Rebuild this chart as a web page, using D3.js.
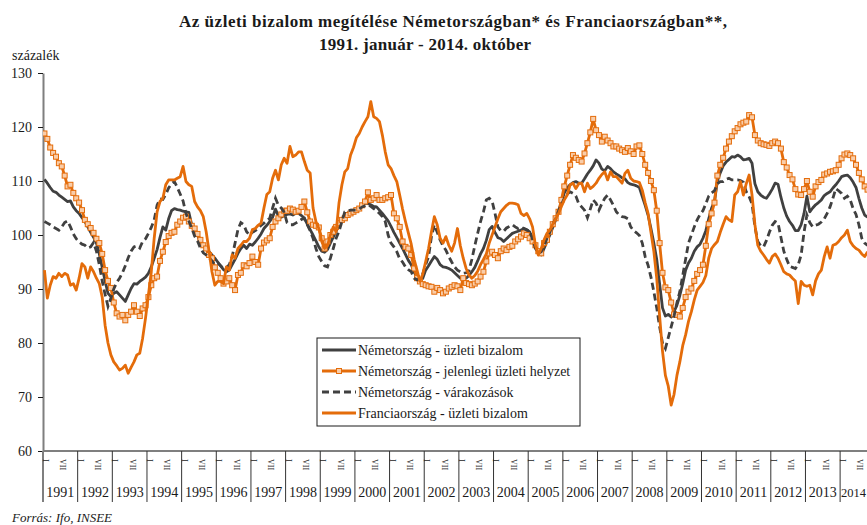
<!DOCTYPE html>
<html>
<head>
<meta charset="utf-8">
<script src="https://d3js.org/d3.v7.min.js"></script>
<style>
  body { margin: 0; background: #fff; }
  svg { display: block; }
  text { font-family: "Liberation Serif", "DejaVu Serif", serif; fill: #1a1a1a; }
</style>
</head>
<body>
<div class="canvas"></div>

<script>
// ---- data (monthly, 1991 Jan - 2014 Oct) ----
const years = ["1991","1992","1993","1994","1995","1996","1997","1998","1999","2000","2001","2002",
               "2003","2004","2005","2006","2007","2008","2009","2010","2011","2012","2013","2014"];
const monthMarks = [{ m: 0, label: "I" }, { m: 6, label: "VII" }];
const yTicks = [60, 70, 80, 90, 100, 110, 120, 130];
const seriesNames = [
  "Németország - üzleti bizalom",
  "Németország - jelenlegi üzleti helyzet",
  "Németország - várakozások",
  "Franciaország - üzleti bizalom"
];

const deBizalom = [
  110.3,109.6,108.8,108.1,107.9,107.4,107.0,106.6,106.2,106.3,105.2,104.5,
  104.0,103.2,102.5,101.5,100.5,99.6,98.5,96.5,94.0,91.5,89.2,88.6,
  89.2,89.5,88.9,88.3,87.7,88.9,90.1,91.0,90.9,91.4,91.8,92.2,
  92.9,94.1,95.7,97.3,99.5,101.5,100.9,103.0,104.5,104.9,104.7,104.6,
  104.4,104.3,104.2,101.9,100.5,100.0,98.5,98.2,97.5,96.9,96.3,95.7,
  95.0,94.3,93.6,93.2,93.5,94.5,95.5,96.6,97.5,98.1,97.5,98.3,
  98.1,98.7,99.4,100.2,101.2,101.8,102.5,103.3,104.8,103.5,103.3,103.6,
  103.8,103.9,103.7,104.0,104.0,103.6,103.1,102.0,101.0,100.0,98.9,97.8,
  97.0,96.8,97.3,98.5,99.6,100.7,101.9,102.9,103.8,104.1,104.3,104.6,
  104.7,105.0,105.4,105.9,105.8,105.6,105.3,105.2,104.6,104.0,103.3,102.6,
  101.6,100.5,99.5,98.5,97.5,96.4,95.3,94.5,93.2,92.0,91.4,92.0,
  93.5,94.3,95.2,96.0,95.5,94.5,94.1,94.0,93.8,93.5,93.0,92.5,
  92.0,91.9,92.0,92.5,93.2,94.0,95.2,96.5,97.5,99.0,101.0,101.6,
  100.5,99.5,99.3,98.8,99.3,99.8,100.3,100.5,100.7,100.9,101.2,101.0,
  100.6,99.3,98.1,96.7,96.3,97.5,98.8,100.0,101.4,102.8,104.5,106.0,
  107.8,108.7,109.3,109.7,109.9,109.6,109.6,110.4,111.3,112.0,112.8,113.9,
  113.3,112.2,111.9,112.7,112.3,111.7,111.3,111.0,110.6,110.4,109.7,109.4,
  109.3,109.1,108.8,107.1,105.5,103.7,101.2,98.5,95.5,91.0,86.5,85.0,
  85.3,84.8,85.8,87.0,88.8,91.0,93.5,94.8,95.7,97.0,97.8,98.3,
  99.4,100.8,103.0,105.0,106.2,110.0,111.5,112.8,113.5,114.0,114.5,114.4,
  114.8,114.5,113.9,114.0,114.2,113.3,109.5,108.0,107.4,107.0,106.8,107.6,
  108.5,109.6,109.4,107.0,105.0,103.5,102.5,101.8,100.8,100.8,101.9,104.0,
  107.2,104.3,105.0,105.6,106.0,106.5,107.3,107.7,108.0,108.7,109.3,110.0,
  110.8,111.0,111.1,110.6,109.8,108.8,106.8,105.0,103.7,103.3
];

const deHelyzet = [
  118.8,117.8,116.2,115.2,114.5,113.3,112.7,111.0,109.0,109.3,107.8,106.8,
  106.0,104.6,102.8,102.0,101.3,100.4,99.3,98.5,96.5,93.5,91.5,90.2,
  87.5,85.5,84.9,85.2,84.2,85.2,85.8,87.0,85.8,85.0,86.4,87.0,
  88.5,90.7,92.0,92.3,95.2,96.9,98.7,99.8,100.4,100.6,101.9,102.5,
  103.2,103.4,102.5,101.7,101.2,100.2,99.1,98.1,97.5,96.3,95.7,94.0,
  93.0,92.0,91.0,91.4,92.0,90.7,89.8,92.6,93.0,94.4,94.2,94.8,
  96.0,95.0,94.5,97.5,98.6,99.0,99.4,101.5,102.5,103.1,103.8,104.5,
  104.5,104.9,104.7,104.3,104.5,105.2,106.2,104.2,102.5,101.9,101.7,101.4,
  99.4,97.5,98.8,100.0,100.6,101.5,102.2,102.8,103.1,103.7,104.0,104.3,
  104.6,104.9,105.5,106.2,107.9,106.5,106.8,107.4,106.5,106.5,106.8,107.0,
  107.4,104.0,103.1,101.5,98.8,97.8,97.5,96.3,93.8,92.0,91.4,90.9,
  90.7,90.5,90.4,89.5,90.2,89.8,89.2,89.5,90.1,90.4,90.7,90.5,
  89.8,92.0,91.1,90.9,90.7,91.0,91.4,92.3,93.2,95.1,96.6,96.9,
  96.3,95.7,97.0,97.5,97.2,97.8,98.0,98.8,99.2,99.7,100.3,100.0,
  99.4,98.8,98.1,97.0,96.6,98.5,99.1,100.6,102.0,103.1,104.3,106.5,
  109.0,111.0,113.0,114.8,114.3,113.9,113.6,115.1,117.0,119.0,121.5,119.4,
  118.5,117.3,118.2,117.5,117.0,116.4,116.4,116.0,115.7,115.4,116.1,115.5,
  115.0,116.4,116.6,115.0,113.0,111.5,110.0,108.3,104.5,98.5,93.0,90.3,
  89.8,87.5,85.3,85.2,84.9,86.5,88.5,89.5,90.1,91.5,92.8,93.5,
  94.5,98.0,102.0,104.0,106.0,111.0,113.0,114.3,116.0,117.3,118.3,119.2,
  119.8,120.5,120.8,121.0,122.2,121.8,118.5,117.5,117.0,116.8,116.7,116.5,
  117.0,117.3,117.0,116.0,113.5,112.5,111.1,110.3,108.5,107.5,107.4,108.5,
  110.0,108.0,107.1,109.0,109.8,110.2,111.2,111.4,111.7,111.8,112.0,113.0,
  114.2,114.9,115.1,114.8,114.2,113.0,111.5,110.3,109.0,108.4
];

const deVarakozas = [
  102.5,102.2,101.9,101.5,101.2,100.9,101.5,102.3,102.6,101.5,100.2,99.3,
  98.7,98.3,98.1,97.6,97.8,98.6,97.0,94.5,91.5,89.0,86.8,88.3,
  90.0,91.2,92.0,93.0,94.3,95.8,97.0,97.8,98.0,97.6,98.8,99.3,
  100.3,101.4,102.8,105.5,106.7,106.6,107.5,108.7,109.5,109.9,108.8,107.6,
  106.3,104.0,102.6,101.3,99.8,98.9,97.6,96.7,96.3,95.8,95.2,94.5,
  94.8,94.3,93.8,94.0,94.5,96.0,98.5,101.0,102.3,101.9,100.6,100.0,
  100.5,100.8,101.2,101.8,102.2,102.7,103.1,105.0,106.8,105.5,105.0,104.2,
  102.3,101.9,101.9,102.2,102.5,102.9,103.1,101.9,100.8,99.4,97.5,96.0,
  95.1,94.3,94.1,95.7,97.5,99.4,100.7,102.5,104.3,104.5,104.6,104.6,
  104.6,104.8,105.2,105.4,105.6,105.3,104.9,104.5,104.0,103.4,102.5,100.0,
  98.5,97.8,96.9,95.6,95.0,94.1,93.6,93.2,92.0,91.7,92.0,92.8,
  94.5,96.0,99.7,101.9,100.5,99.1,98.0,97.2,96.0,95.0,94.1,93.5,
  93.2,92.9,93.0,93.4,95.5,98.0,100.3,102.5,104.3,106.5,106.8,106.3,
  104.0,101.5,100.8,100.7,101.3,101.6,101.9,101.5,101.2,101.5,101.2,100.9,
  100.8,99.2,97.5,96.6,96.9,98.0,99.4,100.5,102.0,103.0,104.5,105.6,
  106.8,107.6,108.0,107.7,107.2,105.8,105.2,104.6,103.2,104.8,106.5,105.9,
  104.6,105.8,106.8,107.4,106.5,105.5,104.3,103.7,103.4,103.3,103.0,101.5,
  100.8,100.4,99.9,98.5,96.0,94.4,92.2,89.5,86.5,83.0,80.0,79.0,
  81.0,83.0,85.0,87.5,89.5,92.5,95.5,98.5,100.0,101.5,102.8,103.8,
  104.5,105.8,107.2,107.8,108.2,109.5,109.9,109.9,110.3,110.5,110.2,110.2,
  110.2,110.1,109.8,108.0,107.1,105.8,101.5,98.8,98.0,97.8,99.0,100.5,
  101.8,102.5,102.2,99.6,97.0,95.5,94.2,94.0,93.8,94.5,96.3,100.5,
  103.7,102.3,101.5,101.8,102.0,102.4,103.0,104.0,105.2,106.8,108.6,108.2,
  107.7,106.8,107.2,106.5,104.9,103.8,101.9,99.4,98.5,98.1
];

const frBizalom = [
  93.5,88.3,90.7,92.3,92.0,92.9,92.3,92.9,92.6,90.7,91.0,89.8,
  92.0,94.7,94.1,92.0,94.1,93.2,92.0,91.0,88.5,83.3,80.0,77.8,
  76.5,75.8,75.0,75.3,75.9,74.4,75.5,76.5,77.8,78.1,80.9,84.6,
  88.9,93.2,99.4,104.3,106.2,106.8,109.3,110.2,110.2,110.2,110.5,110.8,
  112.7,109.9,109.3,109.0,106.2,105.2,104.5,103.4,100.6,97.0,93.2,90.7,
  91.4,91.4,91.0,94.1,93.5,96.3,95.7,97.5,98.1,98.8,98.8,99.4,
  101.0,101.2,101.8,102.2,105.0,107.5,108.0,110.5,112.0,110.2,113.0,114.2,
  113.3,116.4,114.5,114.8,115.4,115.4,113.6,112.0,111.5,105.0,102.5,101.2,
  98.8,97.5,98.0,100.0,101.5,100.6,106.0,109.3,111.7,112.3,114.8,116.2,
  118.0,118.8,120.0,121.0,121.9,124.7,121.9,121.6,121.0,118.5,115.4,113.0,
  112.3,111.0,109.9,107.4,104.8,102.5,100.4,98.3,95.5,93.5,91.4,92.8,
  95.1,97.5,100.6,103.4,101.9,99.4,98.5,99.7,98.1,97.0,98.5,101.2,
  98.0,95.7,93.8,92.6,92.0,92.5,93.3,94.5,95.5,96.5,98.5,100.0,
  101.5,103.0,104.3,104.9,105.5,105.9,105.9,105.8,105.6,104.0,103.6,104.0,
  103.0,101.5,98.1,96.3,97.5,99.1,100.3,100.9,102.0,103.0,104.0,105.3,
  106.5,107.4,109.3,109.6,108.6,109.5,109.6,108.0,109.6,108.6,109.0,109.6,
  110.5,111.2,111.7,110.2,111.7,110.8,110.8,110.2,109.6,111.4,112.0,110.5,
  110.0,109.9,109.7,108.3,106.0,104.0,100.5,97.0,92.0,85.0,78.5,74.0,
  72.0,68.5,70.5,74.0,76.5,79.5,81.5,84.0,85.8,88.0,89.8,90.5,
  91.2,92.5,95.7,97.5,98.2,98.8,100.5,102.0,103.4,102.8,102.5,107.4,
  108.0,109.9,107.4,109.5,111.1,107.4,101.9,98.1,97.0,96.3,95.5,94.8,
  96.0,96.5,95.7,94.5,93.2,92.8,92.6,92.0,91.5,87.3,91.4,90.7,
  90.5,90.7,88.9,91.5,92.8,93.5,96.0,97.8,95.7,98.1,98.3,98.8,
  99.5,100.0,100.9,98.8,98.0,97.5,97.2,96.5,96.0,96.9
];

(function () {
  const W = 867, H = 525;
  const DARK = "#404040", ORANGE = "#E46C0A", SQ_FILL = "#F9CDA9";
  const PLOT_LEFT = 43, PLOT_RIGHT = 869, PLOT_TOP = 73, PLOT_BOTTOM = 451;
  const LINE_W = 2.8;
  const nMonths = deBizalom.length;

  const svg = d3.select(".canvas").append("svg")
    .attr("width", W)
    .attr("height", H);

  const x = d3.scaleLinear().domain([-0.5, nMonths - 0.5]).range([PLOT_LEFT, PLOT_RIGHT]);
  const y = d3.scaleLinear().domain([60, 130]).range([PLOT_BOTTOM, PLOT_TOP]);

  // title
  svg.append("text")
    .attr("x", 453).attr("y", 27)
    .attr("text-anchor", "middle")
    .attr("textLength", 548).attr("lengthAdjust", "spacing")
    .style("font-weight", "bold").style("font-size", "17px")
    .text("Az üzleti bizalom megítélése Németországban* és Franciaországban**,");
  svg.append("text")
    .attr("x", 425).attr("y", 50)
    .attr("text-anchor", "middle")
    .attr("textLength", 212).attr("lengthAdjust", "spacing")
    .style("font-weight", "bold").style("font-size", "17px")
    .text("1991. január - 2014. október");

  svg.append("text")
    .attr("x", 12).attr("y", 60)
    .style("font-size", "14px")
    .text("százalék");

  // y axis
  const yAxis = svg.append("g")
    .attr("transform", "translate(" + PLOT_LEFT + ",0)")
    .call(d3.axisLeft(y).tickValues(yTicks).tickSize(5).tickSizeOuter(0).tickPadding(6));
  yAxis.select(".domain").attr("stroke", "#7f7f7f").attr("stroke-width", 2);
  yAxis.selectAll(".tick line").attr("stroke", "#1a1a1a");
  yAxis.selectAll(".tick text")
    .style("font-family", "'Liberation Serif', serif")
    .style("font-size", "14px").attr("fill", "#1a1a1a");

  // x axis: baseline, year separators, month marks, year labels
  const xAxis = svg.append("g");
  xAxis.append("line")
    .attr("x1", PLOT_LEFT).attr("x2", W)
    .attr("y1", PLOT_BOTTOM).attr("y2", PLOT_BOTTOM)
    .attr("stroke", "#7f7f7f").attr("stroke-width", 2);

  xAxis.selectAll("line.sep").data(years).enter().append("line")
    .attr("class", "sep")
    .attr("x1", (d, k) => x(k * 12 - 0.5)).attr("x2", (d, k) => x(k * 12 - 0.5))
    .attr("y1", PLOT_BOTTOM).attr("y2", 502)
    .attr("stroke", (d, k) => k === 0 ? "#7f7f7f" : "#333")
    .attr("stroke-width", (d, k) => k === 0 ? 2 : 1);

  const marks = [];
  years.forEach((yr, k) => monthMarks.forEach(mm => {
    if (k * 12 + mm.m < nMonths) marks.push({ i: k * 12 + mm.m, label: mm.label });
  }));
  xAxis.selectAll("text.month").data(marks).enter().append("text")
    .attr("class", "month")
    .attr("transform", d => "translate(" + (x(d.i) - 1.5) + ",459) rotate(90)")
    .style("font-size", "8px")
    .attr("fill", "#333")
    .text(d => d.label);

  // the last (partial) year is too narrow for a centred label
  const last = years.length - 1;
  xAxis.selectAll("text.year").data(years).enter().append("text")
    .attr("class", "year")
    .attr("x", (d, k) => k === last ? x(k * 12 - 0.5) + 1 : x(k * 12 + 5.5))
    .attr("y", 497)
    .attr("text-anchor", (d, k) => k === last ? "start" : "middle")
    .style("font-size", (d, k) => k === last ? "12.5px" : "14px")
    .text(d => d);

  // lines
  svg.append("clipPath").attr("id", "plotclip")
    .append("rect").attr("x", PLOT_LEFT).attr("y", 0).attr("width", W - PLOT_LEFT).attr("height", PLOT_BOTTOM);

  const line = d3.line().x((d, i) => x(i)).y(d => y(d));
  const plot = svg.append("g").attr("clip-path", "url(#plotclip)");

  plot.append("path").datum(deBizalom)
    .attr("d", line).attr("fill", "none")
    .attr("stroke", DARK).attr("stroke-width", LINE_W).attr("stroke-linejoin", "round");

  plot.append("path").datum(deHelyzet)
    .attr("d", line).attr("fill", "none")
    .attr("stroke", ORANGE).attr("stroke-width", LINE_W).attr("stroke-linejoin", "round");
  plot.selectAll("rect.sq").data(deHelyzet).enter().append("rect")
    .attr("class", "sq")
    .attr("x", (d, i) => x(i) - 2.5).attr("y", d => y(d) - 2.5)
    .attr("width", 5).attr("height", 5)
    .attr("fill", SQ_FILL).attr("stroke", ORANGE).attr("stroke-width", 1);

  plot.append("path").datum(deVarakozas)
    .attr("d", line).attr("fill", "none")
    .attr("stroke", DARK).attr("stroke-width", LINE_W).attr("stroke-dasharray", "7,4");

  plot.append("path").datum(frBizalom)
    .attr("d", line).attr("fill", "none")
    .attr("stroke", ORANGE).attr("stroke-width", LINE_W).attr("stroke-linejoin", "round");

  // legend
  const lg = svg.append("g").attr("transform", "translate(317,338)");
  lg.append("rect").attr("width", 263).attr("height", 88)
    .attr("fill", "#fff").attr("stroke", "#1a1a1a").attr("stroke-width", 1);
  const styles = [
    { color: DARK, dash: null, marker: false },
    { color: ORANGE, dash: null, marker: true },
    { color: DARK, dash: "7,4", marker: false },
    { color: ORANGE, dash: null, marker: false }
  ];
  const rows = lg.selectAll("g.row").data(seriesNames).enter().append("g")
    .attr("class", "row")
    .attr("transform", (d, i) => "translate(0," + (12 + i * 21) + ")");
  rows.append("line")
    .attr("x1", 5).attr("x2", 39).attr("y1", 0).attr("y2", 0)
    .attr("stroke", (d, i) => styles[i].color).attr("stroke-width", LINE_W)
    .attr("stroke-dasharray", (d, i) => styles[i].dash);
  rows.filter((d, i) => styles[i].marker).append("rect")
    .attr("x", 19.5).attr("y", -2.5).attr("width", 5).attr("height", 5)
    .attr("fill", SQ_FILL).attr("stroke", ORANGE);
  rows.append("text")
    .attr("x", 41).attr("y", 5)
    .style("font-size", "14px")
    .text(d => d);

  svg.append("text")
    .attr("x", 12).attr("y", 522)
    .style("font-size", "13px").style("font-style", "italic")
    .text("Forrás: Ifo, INSEE");
})();
</script>
</body>
</html>
